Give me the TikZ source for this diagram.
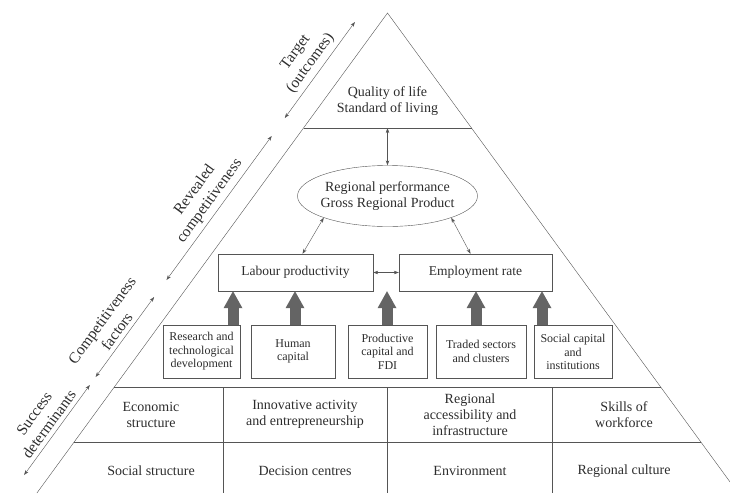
\documentclass[tikz,border=0pt]{standalone}
\usepackage{fontspec}
\setmainfont{Liberation Serif}
\usetikzlibrary{arrows.meta, shapes.geometric, positioning}
\definecolor{linecolor}{RGB}{85,85,85}
\definecolor{textcolor}{RGB}{45,45,45}
\definecolor{arrowcolor}{RGB}{100,100,100}

\tikzset{
    box/.style={draw=linecolor, rectangle, inner sep=0pt, align=center, text=textcolor},
    smallbox/.style={box, minimum height=53pt, font=\fontsize{12}{13.5}\selectfont},
    cell/.style={align=center, text=textcolor, font=\fontsize{14}{16}\selectfont},
    thin arrow/.style={draw=linecolor, {Stealth[length=5pt,width=3.5pt]}-{Stealth[length=5pt,width=3.5pt]}},
    fat arrow/.style={draw=arrowcolor, line width=11pt, -{Triangle[length=17pt,width=19pt,line width=0pt]}},
    side label/.style={sloped, above=1pt, align=center, text=textcolor, font=\fontsize{15.5}{18.5}\selectfont}
}

\begin{document}
\begin{tikzpicture}[x=1pt, y=-1pt]
    \useasboundingbox (0,0) rectangle (730,493);
    \clip (0,0) rectangle (730,493);

    % pyramid and its levels
    \draw[linecolor] (36.9,493) -- (387.5,13) -- (738.1,493);
    \draw[linecolor] (303.5,128) -- (471.5,128);
    \draw[linecolor] (114.3,387) -- (660.7,387);
    \draw[linecolor] (74.2,442) -- (700.8,442);
    \foreach \x in {223,387,552}
        \draw[linecolor] (\x,387) -- (\x,493);

    % target
    \node[cell] (quality) at (387.5,101) {Quality of life\\Standard of living};
    \coordinate (topline) at (387.5,128);

    % revealed competitiveness
    \node[box, ellipse, inner xsep=-12pt, inner ysep=0pt, minimum width=180pt, minimum height=61pt,
          font=\fontsize{14}{16}\selectfont] (perf) at (387.5,196) {Regional performance\\Gross Regional Product};
    \node[box, minimum width=155pt, minimum height=37pt, font=\fontsize{13.5}{15}\selectfont] (labour) at (295.5,272.5) {Labour productivity};
    \node[box, minimum width=153pt, minimum height=37pt, font=\fontsize{13.5}{15}\selectfont] (employ) at (475.5,272.5) {Employment rate};

    \draw[thin arrow] (topline) -- (perf.north);
    \draw[thin arrow] (perf.south west) -- ([xshift=7pt]labour.north);
    \draw[thin arrow] (perf.south east) -- ([xshift=-5pt]employ.north);
    \draw[thin arrow] (labour) -- (employ);

    % competitiveness factors
    \node[smallbox, minimum width=77pt] (research) at (201.5,351.5) {Research and\\technological\\development};
    \node[smallbox, minimum width=84pt] (human) at (293,351.5) {Human\\capital};
    \node[smallbox, minimum width=79pt] (fdi) at (387.5,351.5) {Productive\\capital and\\FDI};
    \node[smallbox, minimum width=90pt] (traded) at (481,351.5) {Traded sectors\\and clusters};
    \node[smallbox, minimum width=78pt] (social) at (573,352) {Social capital\\and\\institutions};

    \foreach \src/\x in {research/233, human/295, fdi/387, traded/476, social/542}
        \draw[fat arrow] (\x,0 |- \src.north) -- (\x,0 |- labour.south);

    % success determinants
    \node[cell] (econ) at (151,414.5) {Economic\\structure};
    \node[cell] (innov) at (305,414.5) {Innovative activity\\and entrepreneurship};
    \node[cell] (access) at (470,414.5) {Regional\\accessibility and\\infrastructure};
    \node[cell] (skills) at (624,414.5) {Skills of\\workforce};
    \node[cell] (socstr) at (151,471) {Social structure};
    \node[cell] (decision) at (305,471) {Decision centres};
    \node[cell] (environ) at (470,471) {Environment};
    \node[cell] (culture) at (624,471) {Regional culture};

    % levels along the side
    \coordinate (t1a) at (284.8,118);
    \coordinate (t1b) at (354.9,22);
    \coordinate (t2a) at (166.5,280);
    \coordinate (t2b) at (271.7,136);
    \coordinate (t3a) at (95.6,377);
    \coordinate (t3b) at (154.1,297);
    \coordinate (t4a) at (24.1,475);
    \coordinate (t4b) at (89.8,385);

    \draw[thin arrow] (t1a) -- node[side label] (target) {Target\\(outcomes)} (t1b);
    \draw[thin arrow] (t2a) -- node[side label] (revealed) {Revealed\\competitiveness} (t2b);
    \draw[thin arrow] (t3a) -- node[side label] (factors) {Competitiveness\\factors} (t3b);
    \draw[thin arrow] (t4a) -- node[side label] (success) {Success\\determinants} (t4b);

\end{tikzpicture}
\end{document}
